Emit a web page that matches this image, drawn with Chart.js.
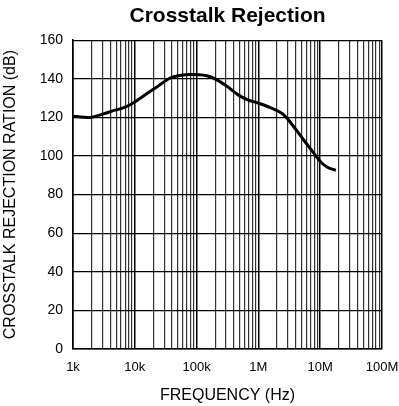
<!DOCTYPE html>
<html>
<head>
<meta charset="utf-8">
<title>Crosstalk Rejection</title>
<script src="https://cdn.jsdelivr.net/npm/chart.js@4/dist/chart.umd.min.js"></script>
<style>
  html, body { margin: 0; padding: 0; background: #fff; }
  #wrap { width: 399px; height: 406px; position: relative; }
</style>
</head>
<body>
<div id="wrap"><canvas id="xtalk"></canvas></div>
<script>
// measured curve, frequency in Hz vs rejection in dB
const freqHz = [1000, 1900, 3100, 4500, 6500, 9400, 15500, 22400, 36700, 53000,
    87000, 162000, 283000, 464000, 672000, 975000, 1600000, 2470000, 3810000,
    5520000, 8000000, 10300000, 13100000, 17900000]
const rejectionDb = [120.6, 120.0, 121.8, 123.5, 124.9, 127.5, 132.2, 135.6, 140.3, 141.7,
    142.2, 141.2, 137.0, 131.8, 129.1, 127.5, 124.9, 121.8, 114.8,
    107.9, 101.2, 96.8, 94.2, 92.5]

// x axis decades and their labels
const decadeValues = [1e3, 1e4, 1e5, 1e6, 1e7, 1e8]
const decadeLabels = ['1k', '10k', '100k', '1M', '10M', '100M']

const FONT = 'Liberation Sans, Arial, Helvetica, sans-serif'

// 1..9 per decade, no 1.5 steps
function logTicks() {
    const ticks = []
    decadeValues.forEach((d, i) => {
        if (i === decadeValues.length - 1) {
            ticks.push({ value: d, major: true })
            return
        }
        for (let m = 1; m < 10; m++) {
            ticks.push({ value: d * m, major: m === 1 })
        }
    })
    return ticks
}

const points = freqHz.map((f, i) => ({ x: f, y: rejectionDb[i] }))

const ctx = document.getElementById('xtalk').getContext('2d')
const chart = new Chart(ctx, {
    type: 'scatter',
    data: {
        datasets: [{
            data: points,
            showLine: true,
            borderColor: '#000',
            borderWidth: 3,
            pointRadius: 0,
            tension: 0.35,
            fill: false,
        }]
    },
    options: {
        responsive: true,
        maintainAspectRatio: false,
        devicePixelRatio: 1,
        animation: false,
        layout: { padding: 0 },
        plugins: {
            legend: { display: false },
            tooltip: { enabled: false },
            title: {
                display: true,
                text: 'Crosstalk Rejection',
                fullSize: false,
                color: '#000',
                font: { family: FONT, size: 21, weight: 'bold' },
                padding: { top: 4, bottom: 11 },
            },
        },
        scales: {
            x: {
                type: 'logarithmic',
                min: 1e3,
                max: 1e8,
                afterBuildTicks: scale => { scale.ticks = logTicks() },
                afterFit: scale => {
                    scale.height = 57
                    scale.paddingLeft = 8
                    scale.paddingRight = 17
                },
                ticks: {
                    autoSkip: false,
                    maxRotation: 0,
                    minRotation: 0,
                    padding: 11,
                    color: '#000',
                    font: { family: FONT, size: 13 },
                    callback: value => {
                        const i = decadeValues.indexOf(value)
                        return i >= 0 ? decadeLabels[i] : ''
                    },
                },
                grid: {
                    drawTicks: false,
                    color: c => (c.tick && c.tick.major) ? '#000' : '#333',
                    lineWidth: c => (c.tick && c.tick.major) ? 1.5 : 1.2,
                },
                border: { color: '#000', width: 1.5 },
                title: {
                    display: true,
                    text: 'FREQUENCY (Hz)',
                    color: '#000',
                    font: { family: FONT, size: 16 },
                    padding: { top: 0, bottom: 1 },
                },
            },
            y: {
                min: 0,
                max: 160,
                afterFit: scale => { scale.width = 73 },
                ticks: {
                    stepSize: 20,
                    padding: 10,
                    color: '#000',
                    font: { family: FONT, size: 14 },
                },
                grid: {
                    drawTicks: false,
                    color: '#000',
                    lineWidth: 1.2,
                },
                border: { color: '#000', width: 1.5 },
                title: {
                    display: true,
                    text: 'CROSSTALK REJECTION RATION (dB)',
                    color: '#000',
                    font: { family: FONT, size: 16 },
                    padding: { top: 1, bottom: 0 },
                },
            },
        },
    },
})
</script>
</body>
</html>
